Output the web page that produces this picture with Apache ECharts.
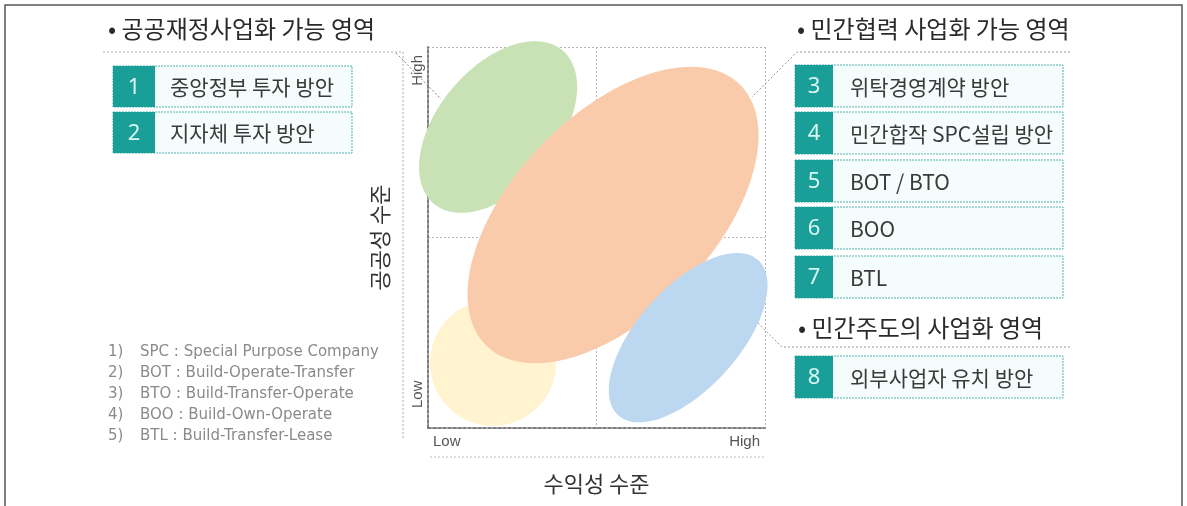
<!DOCTYPE html>
<html>
<head>
<meta charset="utf-8">
<script src="https://cdn.jsdelivr.net/npm/echarts@6/dist/echarts.min.js"></script>
<style>
  html, body { margin: 0; padding: 0; background: #fff; }
  #chart { width: 1187px; height: 506px; }
</style>
</head>
<body>
<div id="chart"></div>
<script>
// ---------------- DATA ----------------
const regionNames = ['저수익·저공공 영역', '공공재정사업화 가능 영역', '민간협력 사업화 가능 영역', '민간주도의 사업화 영역'];
const centerX   = [1.93, 2.08, 5.49, 7.72];   // 수익성 수준 (0 = Low, 10 = High)
const centerY   = [1.71, 7.90, 5.59, 2.37];   // 공공성 수준 (0 = Low, 10 = High)
const semiMajor = [1.87, 2.97, 5.40, 3.10];
const semiMinor = [1.87, 1.78, 2.97, 1.50];
const tiltDeg   = [0, 50, 46, 48];

const xTickLabels = ['Low', '', 'High'];
const yTickLabels = ['Low', '', 'High'];
const xAxisTitle = '수익성 수준';
const yAxisTitle = '공공성 수준';

const groupTitles = ['공공재정사업화 가능 영역', '민간협력 사업화 가능 영역', '민간주도의 사업화 영역'];
const publicNums = ['1', '2'];
const publicOptions = ['중앙정부 투자 방안', '지자체 투자 방안'];
const coopNums = ['3', '4', '5', '6', '7'];
const coopOptions = ['위탁경영계약 방안', '민간합작 SPC설립 방안', 'BOT / BTO', 'BOO', 'BTL'];
const privateNums = ['8'];
const privateOptions = ['외부사업자 유치 방안'];

const footNums = ['1)', '2)', '3)', '4)', '5)'];
const footTexts = [
  'SPC : Special Purpose Company',
  'BOT : Build-Operate-Transfer',
  'BTO : Build-Transfer-Operate',
  'BOO : Build-Own-Operate',
  'BTL : Build-Transfer-Lease'
];

// ---------------- STYLE ----------------
const regionColors = ['#fff4cf', '#c8e2b6', '#f9cbab', '#bcd7f0'];
const KR = '"Noto Sans CJK KR", "Noto Sans", sans-serif';
const TEAL = '#1a9e98';

const ellipseData = regionNames.map((n, i) => ({
  name: n,
  value: [centerX[i], centerY[i], semiMajor[i], semiMinor[i], tiltDeg[i]],
  itemStyle: { color: regionColors[i] }
}));

function optionBoxes(nums, labels, x0, w, cellW, labelX, tops, h) {
  const els = [];
  nums.forEach((n, i) => {
    const y = tops[i];
    els.push({ type: 'rect', shape: { x: x0, y: y, width: w, height: h },
      style: { fill: '#f5fcfc', stroke: '#4fb3ad', lineWidth: 1, lineDash: [2, 1] }, z: 10 });
    els.push({ type: 'rect', shape: { x: x0, y: y, width: cellW, height: h },
      style: { fill: TEAL }, z: 11 });
    els.push({ type: 'text', x: x0 + cellW / 2, y: y + h / 2 + 1,
      style: { text: n, fill: '#d8f6f1', font: '22px "Noto Sans", sans-serif', align: 'center', verticalAlign: 'middle' }, z: 12 });
    els.push({ type: 'text', x: labelX, y: y + h / 2 + 1,
      style: { text: labels[i], fill: '#3a3a3a', font: '21px ' + KR, align: 'left', verticalAlign: 'middle' }, z: 12 });
  });
  return els;
}

const graphics = [];
// outer frame
graphics.push({ type: 'polyline', shape: { points: [[5, 520], [5, 5], [1182, 5], [1182, 520]] },
  style: { stroke: '#555', lineWidth: 1.5, fill: null }, z: 1 });
// titles
const titleFont = '24px ' + KR;
graphics.push({ type: 'text', x: 108, y: 29, style: { text: '• ' + groupTitles[0], fill: '#2a2a2a', font: titleFont, verticalAlign: 'middle' }, z: 12 });
graphics.push({ type: 'text', x: 797, y: 29, style: { text: '• ' + groupTitles[1], fill: '#2a2a2a', font: titleFont, verticalAlign: 'middle' }, z: 12 });
graphics.push({ type: 'text', x: 798, y: 328, style: { text: '• ' + groupTitles[2], fill: '#2a2a2a', font: titleFont, verticalAlign: 'middle' }, z: 12 });
// leader lines
graphics.push({ type: 'polyline', shape: { points: [[103, 52], [403, 52], [403, 440]] },
  style: { stroke: '#b0b0b0', lineWidth: 1, lineDash: [2, 2], fill: null }, z: 9 });
graphics.push({ type: 'polyline', shape: { points: [[396, 53], [441, 99]] },
  style: { stroke: '#888', lineWidth: 1, lineDash: [2, 2], fill: null }, z: 9 });
graphics.push({ type: 'polyline', shape: { points: [[1070, 52], [797, 52], [752, 97]] },
  style: { stroke: '#999', lineWidth: 1, lineDash: [2, 2], fill: null }, z: 9 });
graphics.push({ type: 'polyline', shape: { points: [[1070, 347], [782, 347], [757, 322]] },
  style: { stroke: '#999', lineWidth: 1, lineDash: [2, 2], fill: null }, z: 9 });
graphics.push({ type: 'polyline', shape: { points: [[430, 457], [765, 457]] },
  style: { stroke: '#bbb', lineWidth: 1, lineDash: [2, 2], fill: null }, z: 9 });
// option boxes
graphics.push(...optionBoxes(publicNums, publicOptions, 113, 239, 42, 170, [66, 112], 41));
graphics.push(...optionBoxes(coopNums, coopOptions, 795, 268, 38, 850, [65, 112, 160, 207, 256], 42));
graphics.push(...optionBoxes(privateNums, privateOptions, 795, 268, 38, 850, [356], 42));
// footnotes
footNums.forEach((n, i) => {
  const y = 352 + i * 21;
  graphics.push({ type: 'text', x: 108, y: y, style: { text: n, fill: '#8a8a8a', font: '15px "DejaVu Sans", sans-serif', verticalAlign: 'middle' }, z: 12 });
  graphics.push({ type: 'text', x: 140, y: y, style: { text: footTexts[i], fill: '#8a8a8a', font: '15px "DejaVu Sans", sans-serif', verticalAlign: 'middle' }, z: 12 });
});

const frameLine = { show: true, lineStyle: { color: '#777', width: 1.5, type: [3, 2] } };
const tickFont = { color: '#555', fontSize: 15, fontFamily: '"Liberation Sans", sans-serif' };

const option = {
  animation: false,
  backgroundColor: '#fff',
  grid: { left: 428, top: 47, width: 337, height: 381, outerBoundsMode: 'none', containLabel: false },
  xAxis: [
    {
      type: 'value', min: 0, max: 10, interval: 5, position: 'bottom',
      axisLine: frameLine, axisTick: { show: false },
      splitLine: { show: true, lineStyle: { color: '#b5b5b5', width: 1, type: [2, 2] } },
      axisLabel: Object.assign({
        margin: 6,
        alignMinLabel: 'left', alignMaxLabel: 'right',
        formatter: (v) => {
          const t = xTickLabels[Math.round(v / 5)];
          if (!t) return '';
          return v === 0 ? '{lo|' + t + '}' : '{hi|' + t + '}';
        },
        rich: {
          lo: Object.assign({ padding: [0, 0, 0, 5] }, tickFont),
          hi: Object.assign({ padding: [0, 5, 0, 0] }, tickFont)
        }
      }, tickFont),
      name: xAxisTitle, nameLocation: 'middle', nameGap: 45,
      nameTextStyle: { color: '#333', fontSize: 22, fontFamily: KR }
    },
    {
      type: 'value', min: 0, max: 10, position: 'top',
      axisLine: frameLine, axisTick: { show: false }, axisLabel: { show: false }, splitLine: { show: false }
    }
  ],
  yAxis: [
    {
      type: 'value', min: 0, max: 10, interval: 5, position: 'left',
      axisLine: frameLine, axisTick: { show: false },
      splitLine: { show: true, lineStyle: { color: '#b5b5b5', width: 1, type: [2, 2] } },
      axisLabel: Object.assign({
        rotate: 90, margin: 3,
        alignMinLabel: 'left', alignMaxLabel: 'right',
        formatter: (v) => {
          const t = yTickLabels[Math.round(v / 5)];
          if (!t) return '';
          return v === 0 ? '{lo|' + t + '}' : '{hi|' + t + '}';
        },
        rich: {
          lo: Object.assign({ padding: [0, 0, 0, 20] }, tickFont),
          hi: Object.assign({ padding: [0, 8, 0, 0] }, tickFont)
        }
      }, tickFont),
      name: yAxisTitle, nameLocation: 'middle', nameGap: 37,
      nameTextStyle: { color: '#333', fontSize: 22, fontFamily: KR }
    },
    {
      type: 'value', min: 0, max: 10, position: 'right',
      axisLine: frameLine, axisTick: { show: false }, axisLabel: { show: false }, splitLine: { show: false }
    }
  ],
  series: [{
    type: 'custom',
    xAxisIndex: 0, yAxisIndex: 0,
    clip: false,
    z: 2,
    data: ellipseData,
    renderItem: function (params, api) {
      const cx = api.value(0), cy = api.value(1);
      const a = api.value(2), b = api.value(3), ang = api.value(4) * Math.PI / 180;
      const c = api.coord([cx, cy]);
      const unit = api.size([1, 0])[0];
      const pts = [];
      const N = 144;
      for (let k = 0; k < N; k++) {
        const t = 2 * Math.PI * k / N;
        const ex = a * Math.cos(t), ey = b * Math.sin(t);
        const rx = ex * Math.cos(ang) - ey * Math.sin(ang);
        const ry = ex * Math.sin(ang) + ey * Math.cos(ang);
        pts.push([c[0] + rx * unit, c[1] - ry * unit]);
      }
      return { type: 'polygon', shape: { points: pts }, style: { fill: api.visual('color') } };
    }
  }],
  graphic: graphics
};

const chart = echarts.init(document.getElementById('chart'), null, { renderer: 'canvas' });
chart.setOption(option);
</script>
</body>
</html>
